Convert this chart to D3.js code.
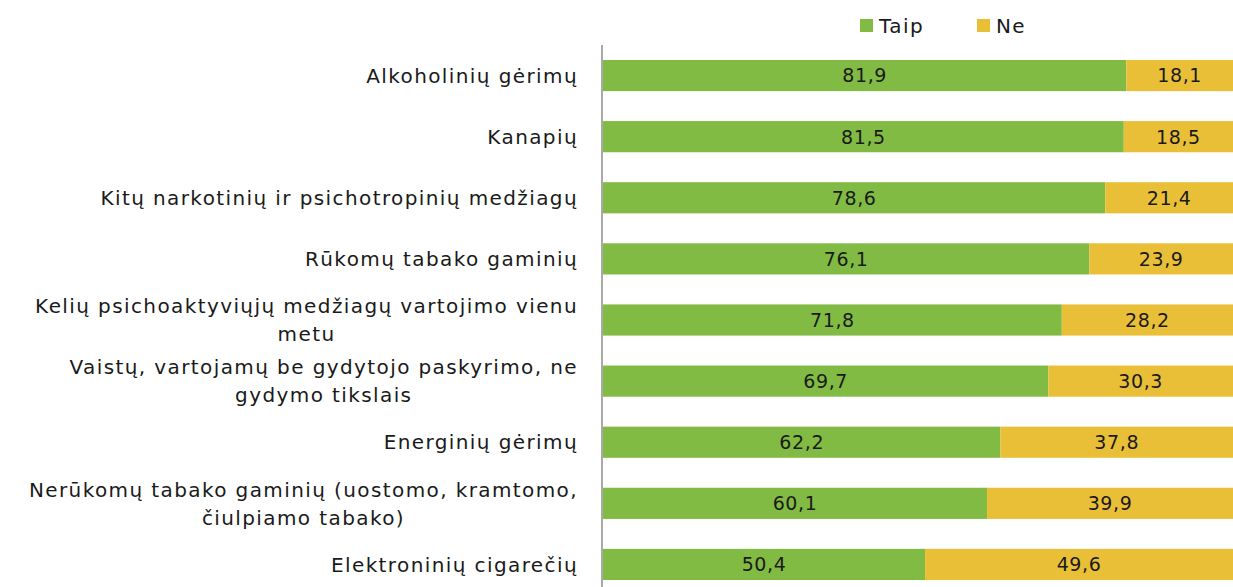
<!DOCTYPE html>
<html>
<head>
<meta charset="utf-8">
<script src="https://cdn.jsdelivr.net/npm/d3@7"></script>
<style>
  body { margin: 0; background: #fff; }
  svg text { font-family: "DejaVu Sans", sans-serif; fill: #1a1a1a; }
</style>
</head>
<body>
<svg width="1233" height="587"></svg>
<script>
'use strict';
// categories (each entry = lines of the label)
var categories = [
  ["Alkoholinių gėrimų"],
  ["Kanapių"],
  ["Kitų narkotinių ir psichotropinių medžiagų"],
  ["Rūkomų tabako gaminių"],
  ["Kelių psichoaktyviųjų medžiagų vartojimo vienu", "metu"],
  ["Vaistų, vartojamų be gydytojo paskyrimo, ne", "gydymo tikslais"],
  ["Energinių gėrimų"],
  ["Nerūkomų tabako gaminių (uostomo, kramtomo,", "čiulpiamo tabako)"],
  ["Elektroninių cigarečių"]
];
var taip = [81.9, 81.5, 78.6, 76.1, 71.8, 69.7, 62.2, 60.1, 50.4];
var ne   = [18.1, 18.5, 21.4, 23.9, 28.2, 30.3, 37.8, 39.9, 49.6];
var seriesNames = ["Taip", "Ne"];

var svg = d3.select("svg");
var colors = d3.scaleOrdinal().domain(seriesNames).range(["#82bb43", "#eabf38"]);

var rows = categories.map(function(c, i) {
  return {id: i, label: c, Taip: taip[i], Ne: ne[i]};
});

var x = d3.scaleLinear().domain([0, 100]).range([603, 1242]);
var y = d3.scaleBand().domain(rows.map(function(d) { return d.id; }))
  .range([45, 595]).paddingInner(0.49).paddingOuter(0.245);

var stack = d3.stack().keys(seriesNames)(rows);
var fmt = function(v) { return d3.format(".1f")(v).replace(".", ","); };

var layers = svg.append("g").selectAll("g")
  .data(stack).enter().append("g")
  .attr("fill", function(d) { return colors(d.key); });

layers.selectAll("rect")
  .data(function(d) { return d; })
  .enter().append("rect")
  .attr("x", function(d) { return x(d[0]); })
  .attr("y", function(d) { return y(d.data.id); })
  .attr("width", function(d) { return x(d[1]) - x(d[0]); })
  .attr("height", y.bandwidth());

// value labels
stack.forEach(function(layer) {
  svg.append("g").selectAll("text")
    .data(layer).enter().append("text")
    .attr("x", function(d) { return (x(d[0]) + Math.min(x(d[1]), 1233)) / 2; })
    .attr("y", function(d) { return y(d.data.id) + y.bandwidth() / 2; })
    .attr("dy", "0.36em")
    .attr("text-anchor", "middle")
    .style("font-size", "19px")
    .style("letter-spacing", "0.6px")
    .text(function(d) { return fmt(d[1] - d[0]); });
});

// axis line
svg.append("line")
  .attr("x1", 602).attr("x2", 602)
  .attr("y1", 45).attr("y2", 587)
  .attr("stroke", "#8c8c8c").attr("stroke-width", 1.5);

// category labels, block right aligned, lines centered
var labelRight = 578, lineH = 28;
rows.forEach(function(r) {
  var cy = y(r.id) + y.bandwidth() / 2;
  var g = svg.append("g");
  var texts = r.label.map(function(line, k) {
    return g.append("text")
      .attr("y", cy + (k - (r.label.length - 1) / 2) * lineH)
      .attr("dy", "0.36em")
      .attr("text-anchor", "start")
      .style("font-size", "20px")
      .style("letter-spacing", "1.4px")
      .text(line);
  });
  var widths = texts.map(function(t) { return t.node().getComputedTextLength(); });
  var maxW = d3.max(widths);
  texts.forEach(function(t, k) { t.attr("x", labelRight - maxW / 2 - widths[k] / 2); });
});

// legend
var legend = svg.append("g").selectAll("g")
  .data(seriesNames).enter().append("g")
  .attr("transform", function(d, i) { return "translate(" + (860 + i * 117) + ",19)"; });
legend.append("rect").attr("width", 13).attr("height", 13)
  .attr("fill", function(d) { return colors(d); });
legend.append("text").attr("x", 19).attr("y", 6.5).attr("dy", "0.36em")
  .style("font-size", "20px")
  .style("letter-spacing", "1.4px")
  .text(function(d) { return d; });
</script>
</body>
</html>
